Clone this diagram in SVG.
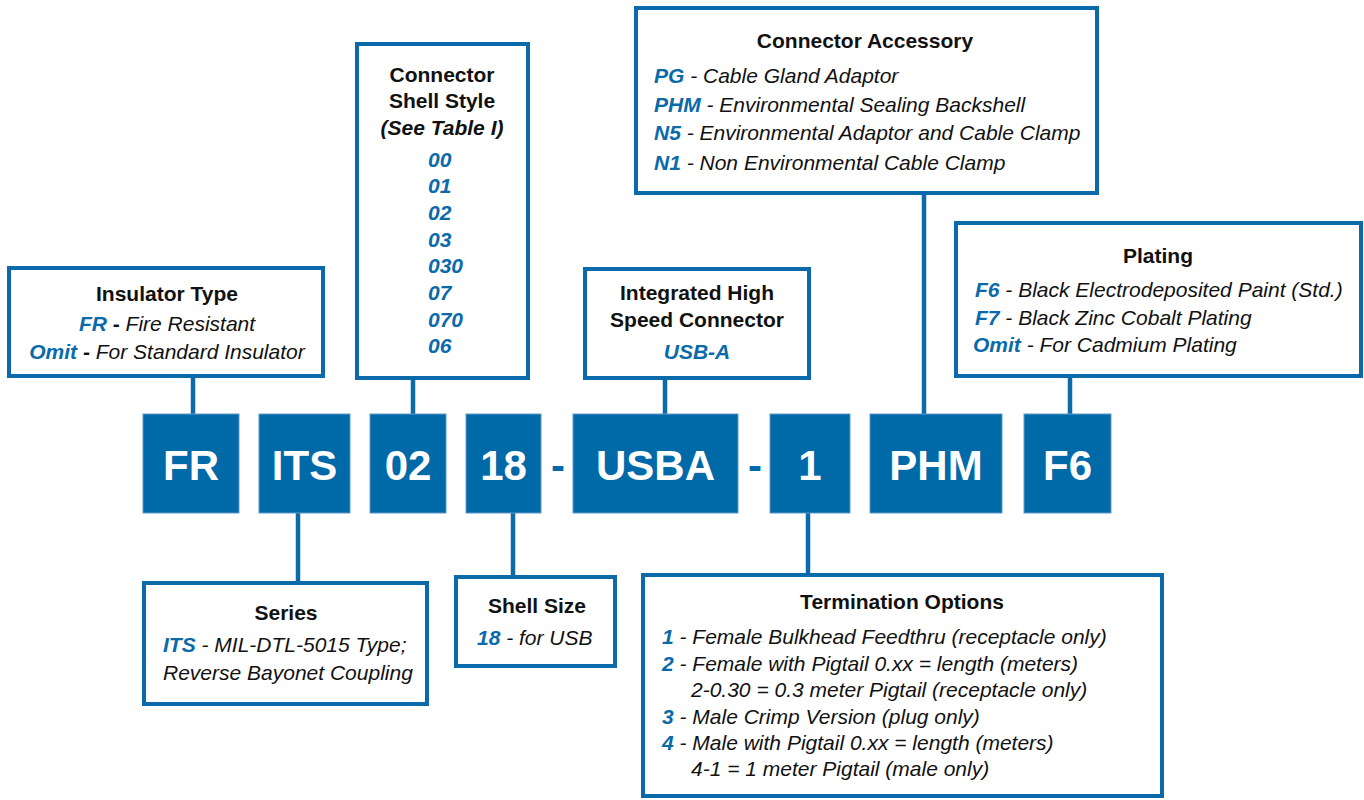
<svg xmlns="http://www.w3.org/2000/svg" width="1364" height="800" viewBox="0 0 1364 800">
<style>
.box{fill:#fff;stroke:#0A6AAA;stroke-width:4}
.blk{fill:#0069A8;stroke:#5E9CCB;stroke-width:1}
.bt{font-family:"Liberation Sans",Arial,sans-serif;font-size:42px;font-weight:bold;fill:#fff;text-anchor:middle}
.dash{font-family:"Liberation Sans",Arial,sans-serif;font-size:42px;font-weight:bold;fill:#0069A8;text-anchor:middle}
.t{font-family:"Liberation Sans",Arial,sans-serif;font-size:21px;fill:#111}
.h{font-weight:bold;text-anchor:middle}
.m{text-anchor:middle}
.b{fill:#0A6AAA;font-weight:bold;font-style:italic}
.i{font-style:italic}
.conn line{stroke:#0A6AAA;stroke-width:4.5}
</style>
<g class="conn" id="connectors">
<line x1="193" y1="378" x2="193" y2="414"/>
<line x1="298" y1="513" x2="298" y2="581"/>
<line x1="413" y1="378" x2="413" y2="414"/>
<line x1="513" y1="513" x2="513" y2="575"/>
<line x1="665" y1="378" x2="665" y2="414"/>
<line x1="808" y1="513" x2="808" y2="573"/>
<line x1="924" y1="195" x2="924" y2="414"/>
<line x1="1070" y1="378" x2="1070" y2="414"/>
</g>
<g id="blk-fr"><rect class="blk" x="143" y="414" width="96" height="99"/><text class="bt" x="191" y="480">FR</text></g>
<g id="blk-its"><rect class="blk" x="259" y="414" width="91" height="99"/><text class="bt" x="304.5" y="480">ITS</text></g>
<g id="blk-02"><rect class="blk" x="370" y="414" width="76" height="99"/><text class="bt" x="408" y="480">02</text></g>
<g id="blk-18"><rect class="blk" x="466" y="414" width="75" height="99"/><text class="bt" x="503.5" y="480">18</text></g>
<text class="dash" x="558" y="480">-</text>
<g id="blk-usba"><rect class="blk" x="573" y="414" width="165" height="99"/><text class="bt" x="655.5" y="480">USBA</text></g>
<text class="dash" x="755" y="480">-</text>
<g id="blk-1"><rect class="blk" x="770" y="414" width="80" height="99"/><text class="bt" x="810" y="480">1</text></g>
<g id="blk-phm"><rect class="blk" x="870" y="414" width="132" height="99"/><text class="bt" x="936" y="480">PHM</text></g>
<g id="blk-f6"><rect class="blk" x="1024" y="414" width="87" height="99"/><text class="bt" x="1067.5" y="480">F6</text></g>

<g id="insulator">
<rect class="box" x="9" y="268" width="314" height="108"/>
<text class="t h" x="167" y="301">Insulator Type</text>
<text class="t m" x="167" y="331"><tspan class="b">FR</tspan><tspan font-weight="bold"> - </tspan><tspan class="i">Fire Resistant</tspan></text>
<text class="t m" x="167" y="359"><tspan class="b">Omit</tspan><tspan font-weight="bold"> - </tspan><tspan class="i">For Standard Insulator</tspan></text>
</g>
<g id="shell-style">
<rect class="box" x="357" y="44" width="171" height="334"/>
<text class="t h" x="442" y="82">Connector</text>
<text class="t h" x="442" y="108">Shell Style</text>
<text class="t h" x="442" y="135" font-style="italic">(See Table I)</text>
<text class="t b" x="428" y="167">00</text>
<text class="t b" x="428" y="193">01</text>
<text class="t b" x="428" y="220">02</text>
<text class="t b" x="428" y="247">03</text>
<text class="t b" x="428" y="273">030</text>
<text class="t b" x="428" y="300">07</text>
<text class="t b" x="428" y="327">070</text>
<text class="t b" x="428" y="353">06</text>
</g>
<g id="integrated">
<rect class="box" x="585" y="269" width="224" height="109"/>
<text class="t h" x="697" y="300">Integrated High</text>
<text class="t h" x="697" y="327">Speed Connector</text>
<text class="t b m" x="697" y="359">USB-A</text>
</g>
<g id="accessory">
<rect class="box" x="636" y="8" width="461" height="185"/>
<text class="t h" x="865" y="48">Connector Accessory</text>
<text class="t" x="654" y="83"><tspan class="b">PG</tspan><tspan class="i"> - Cable Gland Adaptor</tspan></text>
<text class="t" x="654" y="112"><tspan class="b">PHM</tspan><tspan class="i"> - Environmental Sealing Backshell</tspan></text>
<text class="t" x="654" y="140"><tspan class="b">N5</tspan><tspan class="i"> - Environmental Adaptor and Cable Clamp</tspan></text>
<text class="t" x="654" y="170"><tspan class="b">N1</tspan><tspan class="i"> - Non Environmental Cable Clamp</tspan></text>
</g>
<g id="plating">
<rect class="box" x="956" y="223" width="405" height="153"/>
<text class="t h" x="1158" y="263">Plating</text>
<text class="t" x="975" y="297"><tspan class="b">F6</tspan><tspan class="i"> - Black Electrodeposited Paint (Std.)</tspan></text>
<text class="t" x="975" y="325"><tspan class="b">F7</tspan><tspan class="i"> - Black Zinc Cobalt Plating</tspan></text>
<text class="t" x="973" y="352"><tspan class="b">Omit</tspan><tspan class="i"> - For Cadmium Plating</tspan></text>
</g>
<g id="series">
<rect class="box" x="144" y="583" width="283" height="121"/>
<text class="t h" x="286" y="620">Series</text>
<text class="t" x="163" y="652"><tspan class="b">ITS</tspan><tspan class="i"> - MIL-DTL-5015 Type;</tspan></text>
<text class="t i" x="163" y="680">Reverse Bayonet Coupling</text>
</g>
<g id="shell-size">
<rect class="box" x="456" y="577" width="159" height="89"/>
<text class="t h" x="537" y="613">Shell Size</text>
<text class="t" x="477" y="645"><tspan class="b">18</tspan><tspan class="i"> - for USB</tspan></text>
</g>
<g id="termination">
<rect class="box" x="643" y="575" width="519" height="221"/>
<text class="t h" x="902" y="609">Termination Options</text>
<text class="t" x="662" y="644"><tspan class="b">1</tspan><tspan class="i"> - Female Bulkhead Feedthru (receptacle only)</tspan></text>
<text class="t" x="662" y="671"><tspan class="b">2</tspan><tspan class="i"> - Female with Pigtail 0.xx = length (meters)</tspan></text>
<text class="t i" x="691" y="697">2-0.30 = 0.3 meter Pigtail (receptacle only)</text>
<text class="t" x="662" y="724"><tspan class="b">3</tspan><tspan class="i"> - Male Crimp Version (plug only)</tspan></text>
<text class="t" x="662" y="750"><tspan class="b">4</tspan><tspan class="i"> - Male with Pigtail 0.xx = length (meters)</tspan></text>
<text class="t i" x="691" y="776">4-1 = 1 meter Pigtail (male only)</text>
</g>
</svg>
